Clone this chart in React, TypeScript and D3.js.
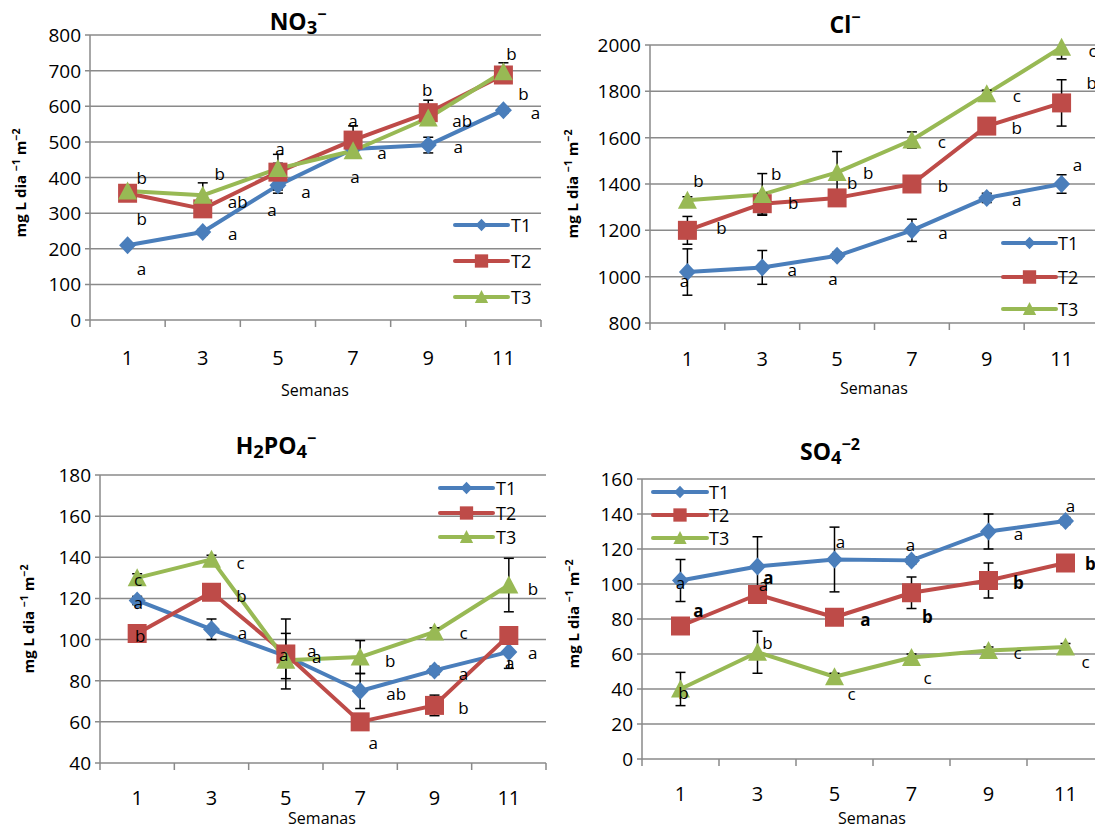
import React from 'react';
import * as d3 from 'd3';

const weeks = [1, 3, 5, 7, 9, 11];
const treatments = ['T1', 'T2', 'T3'];
const colors = ['#4A7EBB', '#BE4B48', '#98B954'];

// NO3-
const no3T1 = [210, 247, 378, 480, 491, 589];
const no3T2 = [356, 312, 415, 505, 582, 688];
const no3T3 = [362, 350, 425, 475, 567, 697];
const no3ErrT1 = [5, 8, 22, 10, 22, 8];
const no3ErrT2 = [8, 10, 50, 40, 35, 10];
const no3ErrT3 = [10, 35, 15, 10, 10, 25];
const no3LetT1 = ['a', 'a', 'a', 'a', 'a', 'a'];
const no3LetT2 = ['b', 'ab', 'a', 'a', 'b', 'b'];
const no3LetT3 = ['b', 'b', 'a', 'a', 'ab', 'b'];

// Cl-
const clT1 = [1020, 1040, 1090, 1200, 1340, 1400];
const clT2 = [1200, 1315, 1340, 1400, 1650, 1750];
const clT3 = [1330, 1355, 1450, 1590, 1790, 1990];
const clErrT1 = [100, 73, 15, 48, 20, 40];
const clErrT2 = [60, 45, 20, 20, 20, 100];
const clErrT3 = [15, 90, 90, 35, 15, 50];
const clLetT1 = ['a', 'a', 'a', 'a', 'a', 'a'];
const clLetT2 = ['b', 'b', 'b', 'b', 'b', 'b'];
const clLetT3 = ['b', 'b', 'b', 'c', 'c', 'c'];

// H2PO4-
const hpT1 = [119, 105, 92, 75, 85, 94];
const hpT2 = [103, 123, 93, 60, 68, 102];
const hpT3 = [130, 139, 90, 91.5, 103.7, 126.5];
const hpErrT1 = [2, 5, 11, 8.5, 2, 8];
const hpErrT2 = [4, 2, 17, 2, 5, 3];
const hpErrT3 = [2, 2, 3, 8, 2, 13];
const hpLetT1 = ['a', 'a', 'a', 'ab', 'a', 'a'];
const hpLetT2 = ['b', 'b', 'a', 'a', 'b', 'a'];
const hpLetT3 = ['c', 'c', 'a', 'b', 'c', 'b'];

// SO4-2
const soT1 = [102, 110, 114, 113.5, 130, 136];
const soT2 = [76, 94, 81, 95, 102, 112];
const soT3 = [40, 61, 47, 58, 62, 64];
const soErrT1 = [12, 17, 18.5, 2, 10, 2];
const soErrT2 = [2, 2, 2, 9, 10, 2];
const soErrT3 = [9.5, 12, 2, 2, 2, 2];
const soLetT1 = ['a', 'a', 'a', 'a', 'a', 'a'];
const soLetT2 = ['a', 'a', 'a', 'b', 'b', 'b'];
const soLetT3 = ['b', 'b', 'c', 'c', 'c', 'c'];

const FONT = '"Open Sans", sans-serif';

type Part = { t: string; s?: 'sub' | 'super' };

const panels = [
  {
    title: [{ t: 'NO' }, { t: '3', s: 'sub' }, { t: '−', s: 'super' }] as Part[],
    titlePos: [298, 30],
    frame: { left: 90, right: 541, top: 35, bottom: 320 },
    domain: [0, 800], step: 100,
    values: [no3T1, no3T2, no3T3],
    errors: [no3ErrT1, no3ErrT2, no3ErrT3],
    letters: [no3LetT1, no3LetT2, no3LetT3],
    bold: [false, false, false],
    offsets: [
      [[14, 23], [30, 1], [28, 6], [29, 3], [30, 1], [32, 2]],
      [[14, 25], [35, -7], [2, -24], [0, -20], [-1, -23], [20, 19]],
      [[14, -14], [17, -22], [-6, 41], [2, 26], [34, 2], [8, -18]],
    ],
    legend: { x1: 455, x2: 508, tx: 511, ys: [225, 261, 297] },
    ylabel: [21, 183], xlabel: [315, 390], tickY: 357,
  },
  {
    title: [{ t: 'Cl' }, { t: '−', s: 'super' }] as Part[],
    titlePos: [845, 33],
    frame: { left: 650, right: 1099, top: 45, bottom: 323 },
    domain: [800, 2000], step: 200,
    values: [clT1, clT2, clT3],
    errors: [clErrT1, clErrT2, clErrT3],
    letters: [clLetT1, clLetT2, clLetT3],
    bold: [false, false, false],
    offsets: [
      [[-3, 8], [30, 2], [-4, 23], [31, 2], [30, 2], [16, -20]],
      [[34, -3], [31, -1], [15, -15], [31, 1], [30, 1], [30, -20]],
      [[11, -20], [14, -21], [31, 0], [30, 2], [30, 2], [31, 3]],
    ],
    legend: { x1: 1003, x2: 1056, tx: 1058, ys: [243, 277, 309] },
    ylabel: [573, 184], xlabel: [874, 388], tickY: 358,
  },
  {
    title: [{ t: 'H' }, { t: '2', s: 'sub' }, { t: 'PO' }, { t: '4', s: 'sub' }, { t: '−', s: 'super' }] as Part[],
    titlePos: [276, 454],
    frame: { left: 100, right: 546, top: 475, bottom: 763 },
    domain: [40, 180], step: 20,
    values: [hpT1, hpT2, hpT3],
    errors: [hpErrT1, hpErrT2, hpErrT3],
    letters: [hpLetT1, hpLetT2, hpLetT3],
    bold: [false, false, false],
    offsets: [
      [[1, 2], [31, 3], [26, -6], [36, 2], [29, 3], [24, 1]],
      [[3, 2], [30, 3], [-2, 1], [13, 21], [29, 2], [1, 27]],
      [[1, 2], [29, 3], [31, -4], [30, 3], [29, 1], [24, 3]],
    ],
    legend: { x1: 440, x2: 493, tx: 496, ys: [488, 513, 537] },
    ylabel: [29, 619], xlabel: [322, 818], tickY: 797,
  },
  {
    title: [{ t: 'SO' }, { t: '4', s: 'sub' }, { t: '−2', s: 'super' }] as Part[],
    titlePos: [830, 460],
    frame: { left: 642, right: 1104, top: 479, bottom: 759 },
    domain: [0, 160], step: 20,
    values: [soT1, soT2, soT3],
    errors: [soErrT1, soErrT2, soErrT3],
    letters: [soLetT1, soLetT2, soLetT3],
    bold: [false, true, false],
    offsets: [
      [[0, 2], [6, 18], [6, -18], [-1, -16], [30, 2], [5, -16]],
      [[18, -16], [11, -17], [31, 2], [16, 24], [30, 2], [25, 0]],
      [[3, 3], [10, -10], [17, 17], [16, 20], [29, 2], [20, 14]],
    ],
    legend: { x1: 653, x2: 707, tx: 709, ys: [492, 515, 538] },
    ylabel: [574, 614], xlabel: [872, 818], tickY: 793,
  },
];

const marker = (k: number, cx: number, cy: number, s = 1) => {
  if (k === 0) {
    const w = 8.5 * s, h = 9 * s;
    return `M${cx},${cy - h}L${cx + w},${cy}L${cx},${cy + h}L${cx - w},${cy}Z`;
  }
  if (k === 1) {
    const h = 9.5 * s;
    return `M${cx - h},${cy - h}h${2 * h}v${2 * h}h${-2 * h}Z`;
  }
  const w = 9.5 * s, h = 8.5 * s;
  return `M${cx},${cy - h - 1}L${cx + w},${cy + h}L${cx - w},${cy + h}Z`;
};

// sub / superscript via dy shifts (fractions of the base font size)
const Rich = ({ parts, size, subSize = 0.8, supSize = 0.7 }: { parts: Part[]; size: number; subSize?: number; supSize?: number }) => {
  let prev = 0;
  return (
    <>
      {parts.map((p, i) => {
        const shift = p.s === 'sub' ? size * 0.18 : p.s === 'super' ? -size * 0.42 : 0;
        const dy = shift - prev;
        prev = shift;
        const fs = p.s === 'sub' ? size * subSize : p.s === 'super' ? size * supSize : size;
        return <tspan key={i} dy={dy} fontSize={fs}>{p.t}</tspan>;
      })}
    </>
  );
};

function Panel({ cfg, id }: { cfg: any; id: number }) {
  const { left, right, top, bottom } = cfg.frame;
  const x = d3.scaleBand<string>().domain(weeks.map(String)).range([left, right]);
  const cx = (i: number) => (x(String(weeks[i])) as number) + x.bandwidth() / 2;
  const y = d3.scaleLinear().domain(cfg.domain).range([bottom, top]);
  const ticks = d3.range(cfg.domain[0], cfg.domain[1] + cfg.step / 2, cfg.step);
  const line = d3.line<number>().x((_, i) => cx(i)).y(d => y(d));
  const bounds = weeks.map(w => x(String(w)) as number).concat([right]);
  const clip = `plot-${id}`;

  return (
    <g fontFamily={FONT}>
      <defs>
        <clipPath id={clip}>
          <rect x={left} y={top - 1} width={right - left} height={bottom - top + 2} />
        </clipPath>
      </defs>
      {ticks.map(t => (
        <g key={t}>
          <line x1={left - 5} x2={right} y1={y(t)} y2={y(t)} stroke="#8a8a8a" strokeWidth={1.5} />
          <text x={left - 9} y={y(t)} textAnchor="end" dominantBaseline="central" fontSize={19} fill="#000">{t}</text>
        </g>
      ))}
      <line x1={left} x2={left} y1={top} y2={bottom} stroke="#8a8a8a" strokeWidth={1.5} />
      {bounds.map((b, i) => (
        <line key={i} x1={b} x2={b} y1={bottom} y2={bottom + 7} stroke="#8a8a8a" strokeWidth={1.5} />
      ))}
      {weeks.map((w, i) => (
        <text key={w} x={cx(i)} y={cfg.tickY} textAnchor="middle" dominantBaseline="central" fontSize={20}>{w}</text>
      ))}
      <text x={cfg.xlabel[0]} y={cfg.xlabel[1]} textAnchor="middle" dominantBaseline="central" fontSize={16}>Semanas</text>
      <text transform={`translate(${cfg.ylabel[0] + 5},${cfg.ylabel[1]}) rotate(-90)`} textAnchor="middle"
        fontWeight="bold">
        <Rich parts={[{ t: 'mg L dia ' }, { t: '−1', s: 'super' }, { t: ' m' }, { t: '−2', s: 'super' }]} size={15} />
      </text>
      <text x={cfg.titlePos[0]} y={cfg.titlePos[1]} textAnchor="middle" fontWeight="bold">
        <Rich parts={cfg.title} size={23} />
      </text>
      {cfg.values.map((vals: number[], k: number) => (
        <path key={'l' + k} d={line(vals) as string} fill="none" stroke={colors[k]} strokeWidth={4} strokeLinejoin="round" />
      ))}
      <g clipPath={`url(#${clip})`}>
        {cfg.values.map((vals: number[], k: number) => (
          <g key={'e' + k} stroke="#000" strokeWidth={1.5}>
            {vals.map((v, i) => {
              const e = cfg.errors[k][i];
              const y1 = y(v + e), y2 = y(v - e), px = cx(i);
              return (
                <g key={i}>
                  <line x1={px} x2={px} y1={y1} y2={y2} />
                  <line x1={px - 5} x2={px + 5} y1={y1} y2={y1} />
                  <line x1={px - 5} x2={px + 5} y1={y2} y2={y2} />
                </g>
              );
            })}
          </g>
        ))}
      </g>
      {cfg.values.map((vals: number[], k: number) => (
        <g key={'m' + k} fill={colors[k]}>
          {vals.map((v, i) => <path key={i} d={marker(k, cx(i), y(v))} />)}
        </g>
      ))}
      {cfg.letters.map((lets: string[], k: number) => (
        <g key={'t' + k} fontSize={17} fontWeight={cfg.bold[k] ? 'bold' : 'normal'}>
          {lets.map((l, i) => (
            <text key={i} x={cx(i) + cfg.offsets[k][i][0]} y={y(cfg.values[k][i]) + cfg.offsets[k][i][1]}
              textAnchor="middle" dominantBaseline="central">{l}</text>
          ))}
        </g>
      ))}
      {treatments.map((t, k) => {
        const lg = cfg.legend;
        const ly = lg.ys[k];
        return (
          <g key={t}>
            <line x1={lg.x1} x2={lg.x2} y1={ly} y2={ly} stroke={colors[k]} strokeWidth={4} strokeLinecap="round" />
            <path d={marker(k, (lg.x1 + lg.x2) / 2, ly, 0.7)} fill={colors[k]} />
            <text x={lg.tx} y={ly} dominantBaseline="central" fontSize={18}>{t}</text>
          </g>
        );
      })}
    </g>
  );
}

export default function App() {
  return (
    <svg width={1095} height={829} style={{ position: 'absolute', left: 0, top: 0, background: '#fff' }}>
      <rect width={1095} height={829} fill="#fff" />
      {panels.map((p, i) => <Panel key={i} cfg={p} id={i} />)}
    </svg>
  );
}
